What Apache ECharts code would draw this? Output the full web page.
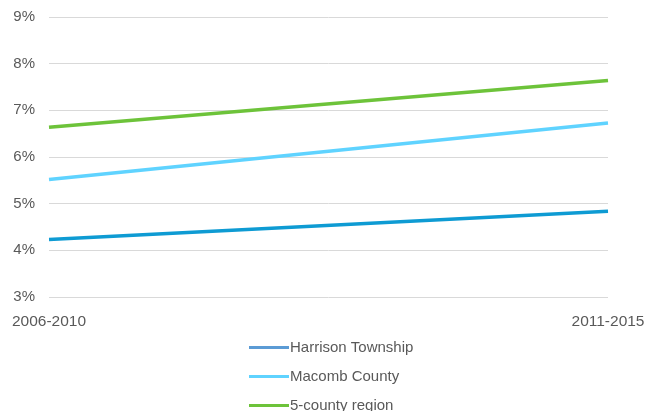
<!DOCTYPE html>
<html>
<head>
<meta charset="utf-8">
<script src="https://cdn.jsdelivr.net/npm/echarts@6/dist/echarts.min.js"></script>
<style>
  html, body { margin: 0; padding: 0; background: #fff; }
  #chart { width: 659px; height: 411px; }
</style>
</head>
<body>
<div id="chart"></div>
<script>
// Periods on the x axis
const periods = ['2006-2010', '2011-2015'];
// Share (%) for each area
const harrison = [4.23, 4.84];
const macomb = [5.52, 6.73];
const region = [6.64, 7.64];
// Series names
const names = ['Harrison Township', 'Macomb County', '5-county region'];
const lineColors = ['#0E9BD3', '#5FD3FF', '#6DC33A'];
const legendColors = ['#5B9BD5', '#5FD3FF', '#6DC33A'];

const chart = echarts.init(document.getElementById('chart'));
const font = '"Liberation Sans", "DejaVu Sans", sans-serif';

const seriesData = [harrison, macomb, region];

chart.setOption({
  animation: false,
  grid: { left: 49, right: 51, top: 17, bottom: 114, containLabel: false },
  xAxis: {
    type: 'category',
    data: periods,
    boundaryGap: false,
    axisLine: { show: false },
    axisTick: { show: false },
    axisLabel: { color: '#595959', fontSize: 15.5, fontFamily: font, margin: 17 }
  },
  yAxis: {
    type: 'value',
    min: 3,
    max: 9,
    interval: 1,
    axisLine: { show: false },
    axisTick: { show: false },
    splitLine: { lineStyle: { color: '#D9D9D9', width: 1 } },
    axisLabel: { color: '#595959', fontSize: 15, fontFamily: font, margin: 14,
      formatter: v => v + '%' }
  },
  legend: {
    orient: 'vertical',
    left: 249,
    top: 339,
    height: 90,
    padding: 0,
    itemWidth: 40,
    itemHeight: 3,
    itemGap: 12,
    icon: 'rect',
    textStyle: { color: '#595959', fontSize: 15, fontFamily: font, padding: [0, 0, 0, -4], lineHeight: 17 },
    data: names.map((n, i) => ({ name: n, itemStyle: { color: legendColors[i] } }))
  },
  series: names.map((n, i) => ({
    name: n,
    type: 'line',
    data: seriesData[i],
    showSymbol: false,
    symbol: 'none',
    lineStyle: { color: lineColors[i], width: 3.5 },
    itemStyle: { color: lineColors[i] }
  }))
});
</script>
</body>
</html>
